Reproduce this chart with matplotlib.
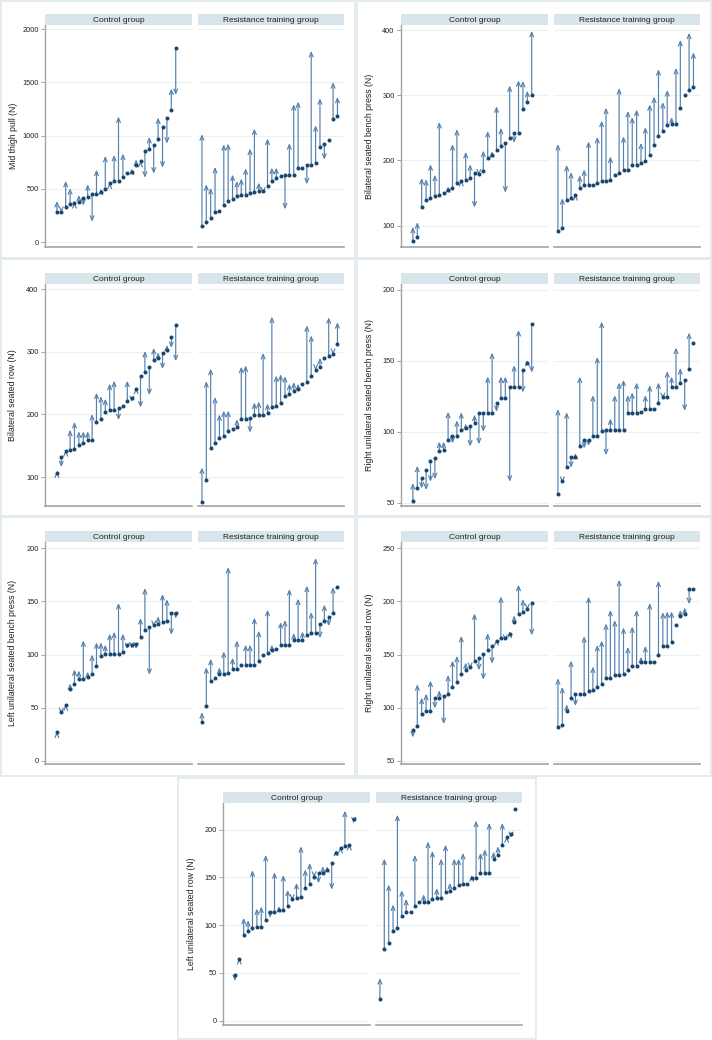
import matplotlib
matplotlib.use("Agg")
import matplotlib.pyplot as plt
from matplotlib.patches import Rectangle

plt.rcParams['font.family'] = ['Liberation Sans', 'DejaVu Sans']

# ---------------- data ----------------
groups = ["Control group", "Resistance training group"]

ylabels = ["Mid thigh pull (N)", "Bilateral seated bench press (N)",
           "Bilateral seated row (N)", "Right unilateral seated bench press (N)",
           "Left unilateral seated bench press (N)", "Right unilateral seated row (N)",
           "Left unilateral seated row (N)"]

yticks = [[0, 500, 1000, 1500, 2000], [100, 200, 300, 400], [100, 200, 300, 400],
          [50, 100, 150, 200], [0, 50, 100, 150, 200], [50, 100, 150, 200, 250],
          [0, 50, 100, 150, 200]]

# Mid thigh pull
mtp_ctrl_pre = [285, 285, 332, 357, 370, 373, 414, 426, 451, 455, 470, 495, 552, 574, 577, 614, 649, 658, 727, 759, 856, 875, 912, 969, 1085, 1166, 1241, 1828]
mtp_ctrl_post = [385, 275, 574, 505, 375, 442, 342, 542, 191, 680, 502, 809, 558, 818, 1179, 831, 649, 690, 777, 762, 605, 987, 643, 1169, 699, 925, 1442, 1382]
mtp_rt_pre = [147, 191, 226, 285, 288, 351, 389, 404, 433, 439, 445, 464, 470, 476, 480, 530, 571, 605, 618, 633, 633, 633, 696, 696, 727, 727, 746, 893, 925, 962, 1154, 1182]
mtp_rt_post = [1013, 542, 508, 705, 288, 918, 925, 633, 574, 596, 693, 878, 1066, 558, 455, 972, 699, 699, 618, 307, 928, 1295, 1320, 696, 542, 1796, 1097, 1351, 774, 962, 1502, 1364]

# Bilateral seated bench press
bbp_ctrl_pre = [75.5, 82.6, 128, 139, 143, 145, 146.5, 150, 155, 157, 165, 168.5, 169.5, 173, 180, 179, 184, 203, 208, 215.5, 222.6, 226.7, 234, 242, 242, 279, 290, 301]
bbp_ctrl_post = [98, 105, 173, 171, 194, 178, 259, 150, 160, 225, 248, 170, 213, 194, 127.6, 177, 215, 245, 214, 283, 250, 150.6, 315, 227, 323, 322, 307, 399]
bbp_rt_pre = [92, 96, 139, 143, 146.5, 158, 162, 162, 162, 165, 169, 169, 170, 177.7, 180, 185, 185, 192.5, 192.5, 196, 199, 208, 224, 237.5, 244.6, 255, 256, 256, 280, 301, 308.5, 312.6]
bbp_rt_post = [225, 142, 193, 182, 148, 177, 186, 229, 162, 236, 261, 281, 206, 177.7, 311, 237, 276, 266.6, 278, 227, 251, 286, 298, 340, 289.5, 308, 266.6, 342, 385, 301, 396, 366]

# Bilateral seated row
bsr_ctrl_pre = [107.4, 131.4, 141, 143, 145, 150.5, 155, 158.5, 158.5, 188, 192, 204, 207.6, 207.6, 211, 214, 222, 226, 241, 260.6, 267, 275, 286.7, 290, 298, 302, 323, 342.5]
bsr_ctrl_post = [109, 116, 143, 175.5, 188, 173, 173, 173, 200.5, 234.6, 229, 225, 249, 253.7, 191, 214, 253.7, 219.7, 242.5, 211, 301, 231, 306, 298.9, 272.3, 311, 306, 285]
bsr_rt_pre = [60.6, 94.7, 146, 154.8, 162, 165, 173.4, 176, 180, 192, 192, 195, 199.5, 199.5, 199.5, 202.6, 211.7, 214, 217.5, 230, 233, 236.7, 241, 248.4, 252, 260.6, 271, 275.5, 290.4, 292.6, 296.8, 312]
bsr_rt_post = [115.4, 253, 273, 227.7, 200, 206, 206, 176, 192.5, 276, 278, 171, 219, 220.7, 298, 217.5, 356, 262, 264, 261, 249, 251.6, 249, 248.4, 342, 326, 270, 290.4, 290.4, 354.8, 295, 347]

# Right unilateral seated bench press
rbp_ctrl_pre = [51.4, 60.3, 67.6, 72.7, 79.5, 81.4, 86.3, 87.3, 94.5, 97, 97, 101, 102.5, 104, 106, 113, 113, 113, 113, 120, 124, 124, 131.3, 131.3, 131.3, 143.3, 148.4, 176]
rbp_ctrl_post = [63.8, 76, 60, 59, 64.8, 66.6, 93, 93, 114, 91.7, 108, 113.7, 105.8, 89.6, 112, 91.2, 100, 138.8, 155.7, 114, 138.8, 138.8, 64.8, 146.8, 171.6, 127.6, 150.5, 141.6]
rbp_rt_pre = [56.3, 65.2, 75, 82.3, 82.3, 90, 94.5, 94.5, 97, 97, 100.4, 101, 101, 101, 101, 101, 113, 113, 113, 114.2, 116.3, 116.3, 116.3, 120.3, 124.3, 124.3, 131.3, 131.3, 134.6, 136.2, 144.4, 162.3]
rbp_rt_post = [115.9, 64, 113.7, 74.6, 85, 138.8, 88.2, 90, 125.7, 152.6, 177.5, 83.5, 109.3, 125.7, 134.6, 136.5, 125.7, 127.6, 134.6, 114.2, 125.7, 132.7, 116.3, 134.6, 123, 142.6, 138.8, 159.2, 144.7, 114.7, 169.8, 162.3]

# Left unilateral seated bench press
lbp_ctrl_pre = [26.7, 45.5, 52.4, 68, 72.2, 77.2, 77.2, 79, 82, 89, 98.3, 101, 101, 101, 101, 102.4, 108.6, 108.6, 110.2, 116.2, 123, 126.2, 128, 128.4, 130.3, 131.2, 139, 139]
lbp_ctrl_post = [27.5, 44, 53, 72.8, 86, 85, 113.3, 84, 100, 111.5, 111.5, 109.3, 119.6, 121.5, 148.5, 119.6, 105.2, 105.8, 105.2, 134.4, 162.6, 81, 126, 136, 157, 152, 118.7, 133.8]
lbp_rt_pre = [37, 52, 75.4, 78.2, 82, 82, 82.6, 86.3, 86.3, 89.8, 90.4, 90.4, 90.4, 93.6, 99.2, 101.4, 104.6, 105.2, 109, 109, 109, 113.3, 113.3, 114, 118, 120.3, 120.3, 128.7, 131.2, 135.6, 139.4, 163.3]
lbp_rt_post = [45.8, 88, 96, 78.2, 88, 103, 182.4, 97, 113.3, 89.8, 109.3, 109.3, 134.7, 122.4, 99.2, 142.2, 109.3, 105.2, 130.6, 132.5, 161.7, 120.3, 152.6, 121.8, 164.8, 140, 190.9, 115.5, 147, 126.8, 163.6, 163.3]

# Right unilateral seated row
rsr_ctrl_pre = [79, 82.7, 93.7, 96.9, 96.9, 109, 109, 111, 112.9, 119.8, 123.9, 132, 135.2, 138.4, 144.3, 146.5, 150.3, 154.4, 158.2, 162.6, 165.4, 166, 169.8, 180.5, 188.4, 190.3, 193.1, 199]
rsr_ctrl_post = [72, 122, 109.4, 113.2, 125.5, 99.4, 116.4, 84.6, 130.8, 144.3, 148.7, 167.6, 142.5, 136.5, 188.7, 135.2, 126.4, 170.1, 141.5, 164.5, 204.7, 163, 171.5, 186.8, 215.7, 202.2, 191.8, 168.2]
rsr_rt_pre = [81.8, 84, 96.9, 109, 113.2, 112.6, 112.6, 115.7, 117, 119.8, 122, 128, 128, 131.1, 131.1, 132, 135.2, 139, 139, 143, 143, 143, 143, 150, 158.2, 158.2, 162.3, 177.4, 186.2, 188, 211.3, 211.3]
rsr_rt_post = [127.7, 119.5, 103.1, 144.3, 101.6, 112.6, 167.3, 204.4, 138.7, 159.1, 163.2, 179.2, 192.1, 182.4, 220.4, 175.5, 157.2, 176.4, 192.1, 148, 158.2, 198.4, 143, 219.5, 189.9, 190.6, 190.6, 177.4, 192, 194.3, 197.5, 211.3]

# Left unilateral seated row
lsr_ctrl_pre = [48, 64.5, 89.9, 94, 96.9, 98.3, 98.3, 105.9, 113.6, 113.6, 115.7, 115.7, 120.2, 127.5, 128.2, 130, 139.4, 143.6, 150.5, 155, 155, 157.8, 165.5, 175.3, 180.8, 183.3, 184, 211.5]
lsr_ctrl_post = [41.5, 65.5, 107.7, 105.2, 157.5, 117.4, 119.5, 173.5, 107.7, 155.4, 120, 152.6, 137, 125.8, 144.3, 182.6, 158.5, 165.2, 149.8, 143.9, 161.7, 161.7, 137.3, 179, 182, 219.9, 185, 206.6]
lsr_rt_pre = [22.3, 74.9, 81.9, 94, 96.9, 109.4, 113.6, 113.6, 120.6, 124.4, 124.4, 124.4, 127.9, 128.6, 128.6, 135.2, 136.2, 139.4, 142.5, 143.2, 143.2, 149.5, 149.8, 154.4, 154.4, 154.4, 169.3, 173.2, 184.3, 192.7, 195.1, 222]
lsr_rt_post = [44.6, 169.7, 142.5, 121.6, 215.7, 136.6, 127.5, 113.6, 173.5, 124.4, 132.4, 187.5, 177.7, 138.7, 169.7, 184.3, 144.3, 169.7, 169.7, 175.6, 143.2, 152.3, 209.4, 175.6, 179.4, 207, 177, 182.6, 207, 193, 191.3, 222]

panels = [
    (mtp_ctrl_pre, mtp_ctrl_post, mtp_rt_pre, mtp_rt_post),
    (bbp_ctrl_pre, bbp_ctrl_post, bbp_rt_pre, bbp_rt_post),
    (bsr_ctrl_pre, bsr_ctrl_post, bsr_rt_pre, bsr_rt_post),
    (rbp_ctrl_pre, rbp_ctrl_post, rbp_rt_pre, rbp_rt_post),
    (lbp_ctrl_pre, lbp_ctrl_post, lbp_rt_pre, lbp_rt_post),
    (rsr_ctrl_pre, rsr_ctrl_post, rsr_rt_pre, rsr_rt_post),
    (lsr_ctrl_pre, lsr_ctrl_post, lsr_rt_pre, lsr_rt_post),
]

# ---------------- layout / style ----------------
W, H = 712, 1040
origins = [(0, 0), (356, 0), (0, 259), (356, 259), (0, 517), (356, 517), (178, 778)]
ylims = [(-47, 2040), (67, 408), (54, 408), (47.7, 204), (-3, 206), (47, 256), (-4.5, 228)]
borders = [(1, 1, 355, 258), (357, 1, 711, 258), (1, 259, 355, 516), (357, 259, 711, 516),
           (1, 517, 355, 776), (357, 517, 711, 776), (178, 778, 536, 1039)]

DOT = '#1a476f'
ARROW = '#5581ad'
STRIP = '#d9e5ea'
AXIS = '#a3a3a3'
GRID = '#eaf1f3'
BORDER = '#e2ebee'
TXT = '#222222'

fig = plt.figure(figsize=(W / 100, H / 100), dpi=100)
fig.patch.set_facecolor('white')


def px_axes(l, t, w, h):
    return fig.add_axes([l / W, 1 - (t + h) / H, w / W, h / H])


for (x0, y0, x1, y1) in borders:
    fig.add_artist(Rectangle((x0 / W, 1 - y1 / H), (x1 - x0) / W, (y1 - y0) / H,
                             transform=fig.transFigure, fill=False,
                             edgecolor=BORDER, lw=1.3))

XLIM = (0, 33.4)
x_offsets = [2.7, 0.9]

for p, (ox, oy) in enumerate(origins):
    data = panels[p]
    lefts = [ox + 45, ox + 198]
    widths = [147, 146]
    for g in range(2):
        pre = data[2 * g]
        post = data[2 * g + 1]
        ax = px_axes(lefts[g], oy + 25, widths[g], 222)
        ax.set_xlim(*XLIM)
        ax.set_ylim(*ylims[p])
        ax.set_yticks(yticks[p])
        ax.set_xticks([])
        ax.grid(axis='y', color=GRID, lw=0.8)
        ax.set_axisbelow(True)
        for s in ['top', 'right']:
            ax.spines[s].set_visible(False)
        ax.spines['bottom'].set_color(AXIS)
        ax.spines['bottom'].set_linewidth(1.2)
        if g == 0:
            ax.spines['left'].set_color(AXIS)
            ax.spines['left'].set_linewidth(1.0)
            ax.tick_params(axis='y', length=3, width=0.7, color=AXIS, labelsize=5.3,
                           labelcolor=TXT, pad=1.5)
        else:
            ax.spines['left'].set_visible(False)
            ax.tick_params(axis='y', length=0, labelleft=False)
        xs = [x_offsets[g] + i for i in range(len(pre))]
        for x, a, b in zip(xs, pre, post):
            if a != b:
                ax.annotate('', xy=(x, b), xytext=(x, a),
                            arrowprops=dict(arrowstyle='->,head_length=0.4,head_width=0.17',
                                            color=ARROW, lw=0.85, shrinkA=0, shrinkB=0,
                                            mutation_scale=8),
                            zorder=2)
        ax.plot(xs, pre, 'o', color=DOT, markersize=2.9, markeredgewidth=0, zorder=3)

        # facet strip
        sax = px_axes(lefts[g], oy + 14, widths[g], 11)
        sax.set_facecolor(STRIP)
        sax.set_xticks([])
        sax.set_yticks([])
        for s in sax.spines.values():
            s.set_visible(False)
        sax.text(0.5, 0.45, groups[g], ha='center', va='center', fontsize=6, color=TXT,
                 transform=sax.transAxes)

    # y label
    fig.text((ox + 13) / W, 1 - (oy + 25 + 111) / H, ylabels[p], rotation=90,
             ha='center', va='center', fontsize=6.3, color=TXT)

fig.savefig('out.png', dpi=100, facecolor='white')
